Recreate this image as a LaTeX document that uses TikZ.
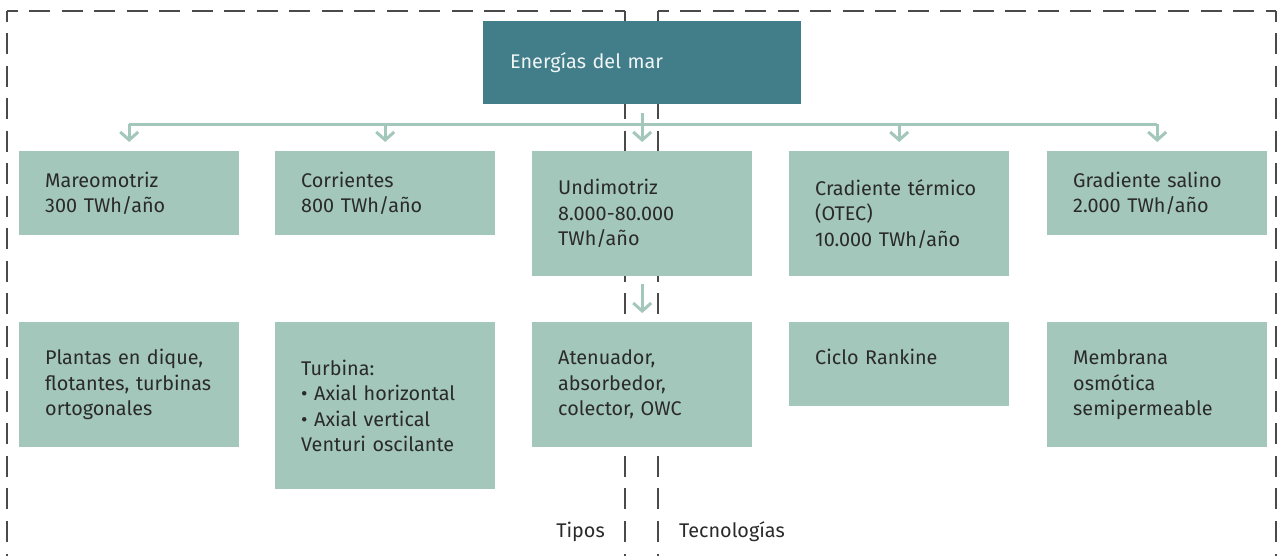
\documentclass[tikz,border=0pt]{standalone}
\usepackage{fontspec}
\setmainfont{Fira Sans}
\usetikzlibrary{arrows.meta,calc}
\definecolor{BoxClr}{HTML}{A3C7BA}
\definecolor{HeadClr}{HTML}{417E89}
\definecolor{TxtClr}{HTML}{2A2A2A}
\definecolor{DashClr}{HTML}{4A4A4A}

\begin{document}
\begin{tikzpicture}[x=1pt,y=-1pt,
  font=\fontsize{19.8}{25.5}\selectfont,
  box/.style={fill=BoxClr,text=TxtClr,anchor=north west,minimum width=220pt,
    inner xsep=26pt,inner ysep=0pt,text width=168pt,align=left},
  lnk/.style={draw=BoxClr,line width=3pt},
  arr/.style={lnk,-{Straight Barb[length=8pt,width=18pt,line width=3pt]},shorten >=9pt},
  dsh/.style={draw=DashClr,line width=1.4pt,dash pattern=on 21pt off 11.53pt,dash phase=10.5pt}]
\useasboundingbox (0,0) rectangle (1277,555);

% dashed frames
\draw[dsh] (7,11) -- (7,570);
\draw[dsh] (7,11) -- (625,11);
\draw[dsh] (625,11) -- (625,570);
\draw[dsh] (658,11) -- (658,570);
\draw[dsh] (658,11) -- (1276,11);
\draw[dsh] (1276,11) -- (1276,570);

\node[box,fill=HeadClr,text=white!92!HeadClr,minimum width=318pt,minimum height=83pt,inner xsep=27pt,text width=264pt] (mar) at (483,21) {Energías del mar};

\node[box,minimum height=84pt] (mareo) at (19,151) {Mareomotriz\\300 TWh/año};
\node[box,minimum height=84pt] (corr) at (275,151) {Corrientes\\800 TWh/año};
\node[box,minimum height=125pt] (undi) at (532,151) {Undimotriz\\8.000-80.000\\TWh/año};
\node[box,minimum height=125pt] (otec) at (789,151) {Cradiente térmico\\(OTEC)\\10.000 TWh/año};
\node[box,minimum height=84pt] (sal) at (1047,151) {Gradiente salino\\2.000 TWh/año};

\node[box,minimum height=125pt] (dique) at (19,322) {Plantas en dique,\\flotantes, turbinas\\ortogonales};
\node[box,minimum height=167pt] (turb) at (275,322) {Turbina:\\• Axial horizontal\\• Axial vertical\\Venturi oscilante};
\node[box,minimum height=125pt] (aten) at (532,322) {Atenuador,\\absorbedor,\\colector, OWC};
\node[box,minimum height=84pt,text depth=14pt] (rank) at (789,322) {Ciclo Rankine};
\node[box,minimum height=125pt] (memb) at (1047,322) {Membrana\\osmótica\\semipermeable};

\node[text=TxtClr,anchor=base east,inner sep=0pt] (tipos) at (605,537) {Tipos};
\node[text=TxtClr,anchor=base west,inner sep=0pt] (tecno) at (679,537) {Tecnologías};

% connectors
\coordinate (busL) at ($(mareo.north)+(0,-27)$);
\coordinate (busR) at ($(sal.north)+(0,-27)$);
\draw[lnk] (busL) -- (busR);
\draw[arr] (mareo.north |- busL) -- (mareo.north);
\draw[arr] (corr.north |- busL) -- (corr.north);
\draw[arr] (otec.north |- busL) -- (otec.north);
\draw[arr] (sal.north |- busL) -- (sal.north);
\draw[arr,shorten <=9pt] (undi.north |- mar.south) -- (undi.north);
\draw[arr,shorten <=8pt] (undi.south) -- (aten.north);

\end{tikzpicture}
\end{document}
